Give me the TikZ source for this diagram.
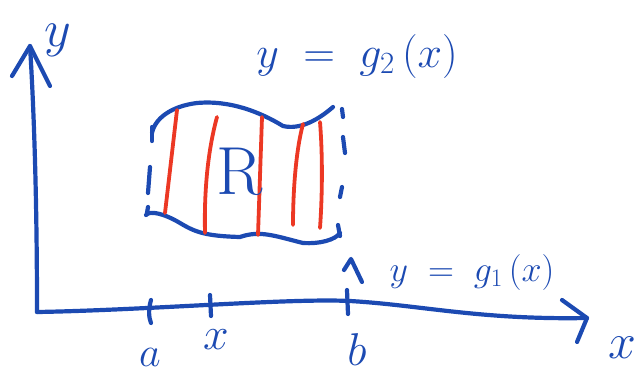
\documentclass[tikz,border=0pt]{standalone}
\usepackage{fix-cm}
\definecolor{pen}{RGB}{28,74,178}
\definecolor{redpen}{RGB}{236,56,36}
\tikzset{
  ink/.style={pen, line width=4.2pt, line cap=round, line join=round},
  redink/.style={redpen, line width=3.8pt, line cap=round},
  lbl/.style={text=pen, inner sep=0pt},
}
\newcommand{\fs}[1]{\fontsize{#1}{#1}\selectfont}
\begin{document}
\begin{tikzpicture}[x=1pt,y=-1pt]
\useasboundingbox (0,0) rectangle (642,376);
% axes
\coordinate (O) at (37,312);
\coordinate (ytip) at (30,46);
\coordinate (xtip) at (587,318);
\draw[ink] (O) .. controls (37,200) and (34,110) .. (ytip);
\draw[ink] (12,76) -- (ytip) -- (50,86);
\draw[ink] (O) .. controls (150,310) and (290,298) .. (350,301)
   .. controls (420,305) and (480,320) .. (xtip);
\draw[ink] (562,300) -- (xtip) -- (577,342);
% ticks
\draw[ink] (151,300) .. controls (148,310) and (149,318) .. (151,323);
\draw[ink] (210,295) -- (211,316);
\draw[ink] (347,290) -- (348,314);
% region top and bottom boundaries
\draw[ink] (152,133) .. controls (155,118) and (172,106) .. (197,103)
   .. controls (230,100) and (260,112) .. (283,126)
   .. controls (300,130) and (318,120) .. (333,107);
\draw[ink] (146,215) .. controls (150,210) and (165,214) .. (180,223)
   .. controls (195,232) and (205,236) .. (240,237)
   .. controls (260,230) and (275,236) .. (303,243)
   .. controls (320,244) and (335,240) .. (340,233);
% dashed sides
\draw[ink] (152,127) -- (152,141);
\draw[ink] (150,167) -- (148,193);
\draw[ink] (148,207) -- (147,213);
\draw[ink] (342,109) -- (343,117);
\draw[ink] (343,137) -- (345,153);
\draw[ink] (342,187) -- (340,197);
\draw[ink] (338,225) -- (340,236);
% red strips
\draw[redink] (177,110) -- (165,213);
\draw[redink] (217,117) .. controls (208,150) and (204,190) .. (205,233);
\draw[redink] (262,117) -- (258,235);
\draw[redink] (303,124) .. controls (296,150) and (293,190) .. (293,225);
\draw[redink] (320,122) .. controls (323,160) and (322,200) .. (320,228);
% caret near lower curve
\draw[ink] (344,270) -- (351,259) -- (362,282);
% labels
\node[lbl, font=\fs{52}] (ylab) at (58,40) {$y$};
\node[lbl, font=\fs{50}] (xlab) at (622,348) {$x$};
\node[lbl, font=\fs{42}] (alab) at (150,357) {$a$};
\node[lbl, font=\fs{46}] (xtick) at (216,340) {$x$};
\node[lbl, font=\fs{46}] (blab) at (357,350) {$b$};
\node[lbl, font=\fs{68}] (R) at (240,172) {R};
\node[lbl, font=\fs{44}] (g2) at (357,56) {$y\;=\;g_2\,(x)$};
\node[lbl, font=\fs{36}] (g1) at (472,272) {$y\;=\;g_1\,(x)$};
\end{tikzpicture}
\end{document}
